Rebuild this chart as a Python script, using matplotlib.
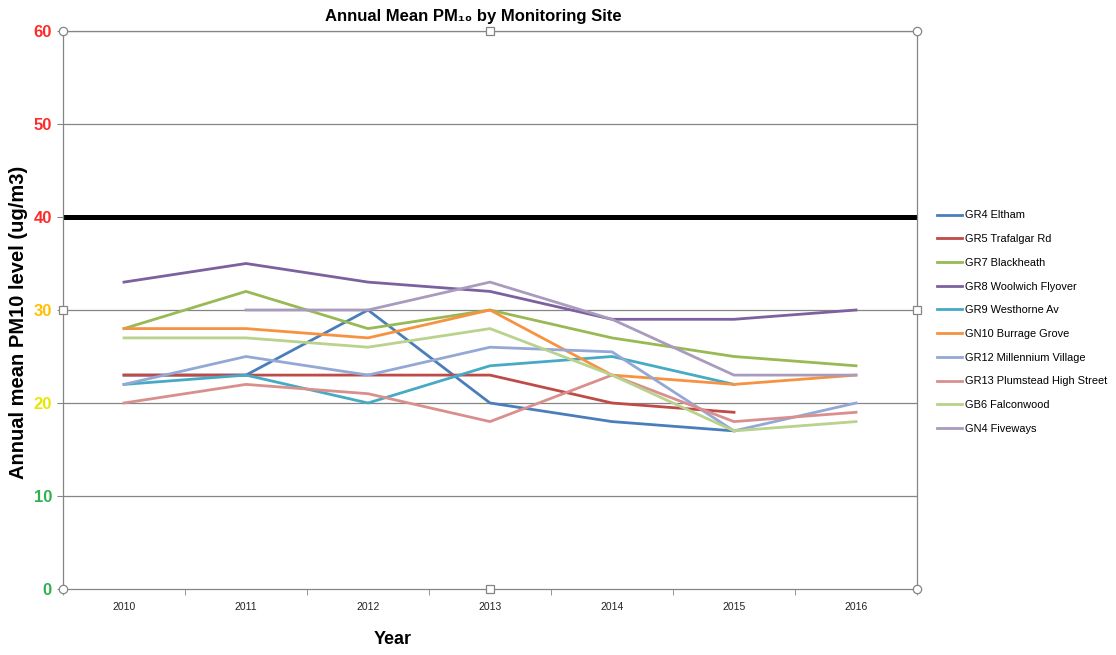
import numpy as np
import matplotlib
matplotlib.use("Agg")
import matplotlib.pyplot as plt
from matplotlib.lines import Line2D

nan = np.nan
years = ["2010", "2011", "2012", "2013", "2014", "2015", "2016"]

gr4_eltham = [23, 23, 30, 20, 18, 17, nan]
gr5_trafalgar = [23, 23, 23, 23, 20, 19, nan]
gr7_blackheath = [28, 32, 28, 30, 27, 25, 24]
gr8_woolwich = [33, 35, 33, 32, 29, 29, 30]
gr9_westhorne = [22, 23, 20, 24, 25, 22, nan]
gn10_burrage = [28, 28, 27, 30, 23, 22, 23]
gr12_millennium = [22, 25, 23, 26, 25.5, 17, 20]
gr13_plumstead = [20, 22, 21, 18, 23, 18, 19]
gb6_falconwood = [27, 27, 26, 28, 23, 17, 18]
gn4_fiveways = [nan, 30, 30, 33, 29, 23, 23]

series_names = ["GR4 Eltham", "GR5 Trafalgar Rd", "GR7 Blackheath", "GR8 Woolwich Flyover",
                "GR9 Westhorne Av", "GN10 Burrage Grove", "GR12 Millennium Village",
                "GR13 Plumstead High Street", "GB6 Falconwood", "GN4 Fiveways"]
series_values = [gr4_eltham, gr5_trafalgar, gr7_blackheath, gr8_woolwich, gr9_westhorne,
                 gn10_burrage, gr12_millennium, gr13_plumstead, gb6_falconwood, gn4_fiveways]
colors = ["#4A7EBB", "#BE4B48", "#98B954", "#7D60A0", "#46AAC5", "#F69240",
          "#94A8D6", "#D98F8D", "#B9D28C", "#A99BBD"]

limit_value = 40
yticks = [0, 10, 20, 30, 40, 50, 60]
ytick_colors = ["#2DB050", "#2DB050", "#E6E600", "#FFC000", "#FF2A2A", "#FF2A2A", "#FF2A2A"]

plt.rcParams['font.family'] = ['Liberation Sans', 'DejaVu Sans']

fig = plt.figure(figsize=(11.16, 6.55), dpi=100)
ax = fig.add_axes([63/1116, 1-589/655, (917-63)/1116, (589-31)/655])

x = np.arange(len(years))
ax.set_xlim(-0.5, len(years)-0.5)
ax.set_ylim(0, 60)

for yv in [10, 20, 30, 50, 60]:
    ax.axhline(yv, color="#858585", lw=0.9, zorder=1)
ax.axhline(limit_value, color="black", lw=3.6, zorder=2)

for name, vals, c in zip(series_names, series_values, colors):
    ax.plot(x, vals, color=c, lw=2.0, label=name, zorder=3, solid_joinstyle='round')

ax.set_xticks(x)
ax.set_xticklabels(years, fontsize=7.5, color="#222222")
ax.set_xticks(np.arange(-0.5, len(years)), minor=True)
ax.tick_params(axis='x', which='major', length=0, pad=9)
ax.tick_params(axis='x', which='minor', length=4, color="#858585", direction='out')

ax.set_yticks(yticks)
ax.set_yticklabels([str(t) for t in yticks], fontsize=12, fontweight='bold')
for lbl, c in zip(ax.get_yticklabels(), ytick_colors):
    lbl.set_color(c)
ax.tick_params(axis='y', length=4, color="#858585", pad=4)

for s in ax.spines.values():
    s.set_color("#858585")
    s.set_linewidth(0.9)

# selection handles
for (hx, hy) in [(0, 0), (1, 0), (0, 1), (1, 1)]:
    ax.plot(hx, hy, marker='o', ms=6, mfc='white', mec='#858585', mew=0.9,
            transform=ax.transAxes, clip_on=False, zorder=5)
for (hx, hy) in [(0.5, 0), (0.5, 1), (0, 0.5), (1, 0.5)]:
    ax.plot(hx, hy, marker='s', ms=5.5, mfc='white', mec='#858585', mew=0.9,
            transform=ax.transAxes, clip_on=False, zorder=5)

fig.text(473/1116, 1-17/655, "Annual Mean PM\u2081\u2080 by Monitoring Site",
         ha='center', va='center', fontsize=12, fontweight='bold')
fig.text(19/1116, 1-322/655, "Annual mean PM10 level (ug/m3)", rotation=90,
         ha='center', va='center', fontsize=14.5, fontweight='bold')
fig.text(393/1116, 1-640/655, "Year", ha='center', va='center', fontsize=13, fontweight='bold')

handles = [Line2D([0], [0], color=c, lw=2.0) for c in colors]
fig.legend(handles, series_names, loc='upper left', bbox_to_anchor=(933/1116, 1-206/655),
           frameon=False, fontsize=7.9, handlelength=2.2, handletextpad=0.3,
           labelspacing=1.25, borderaxespad=0)

fig.savefig("out.png", dpi=100)
